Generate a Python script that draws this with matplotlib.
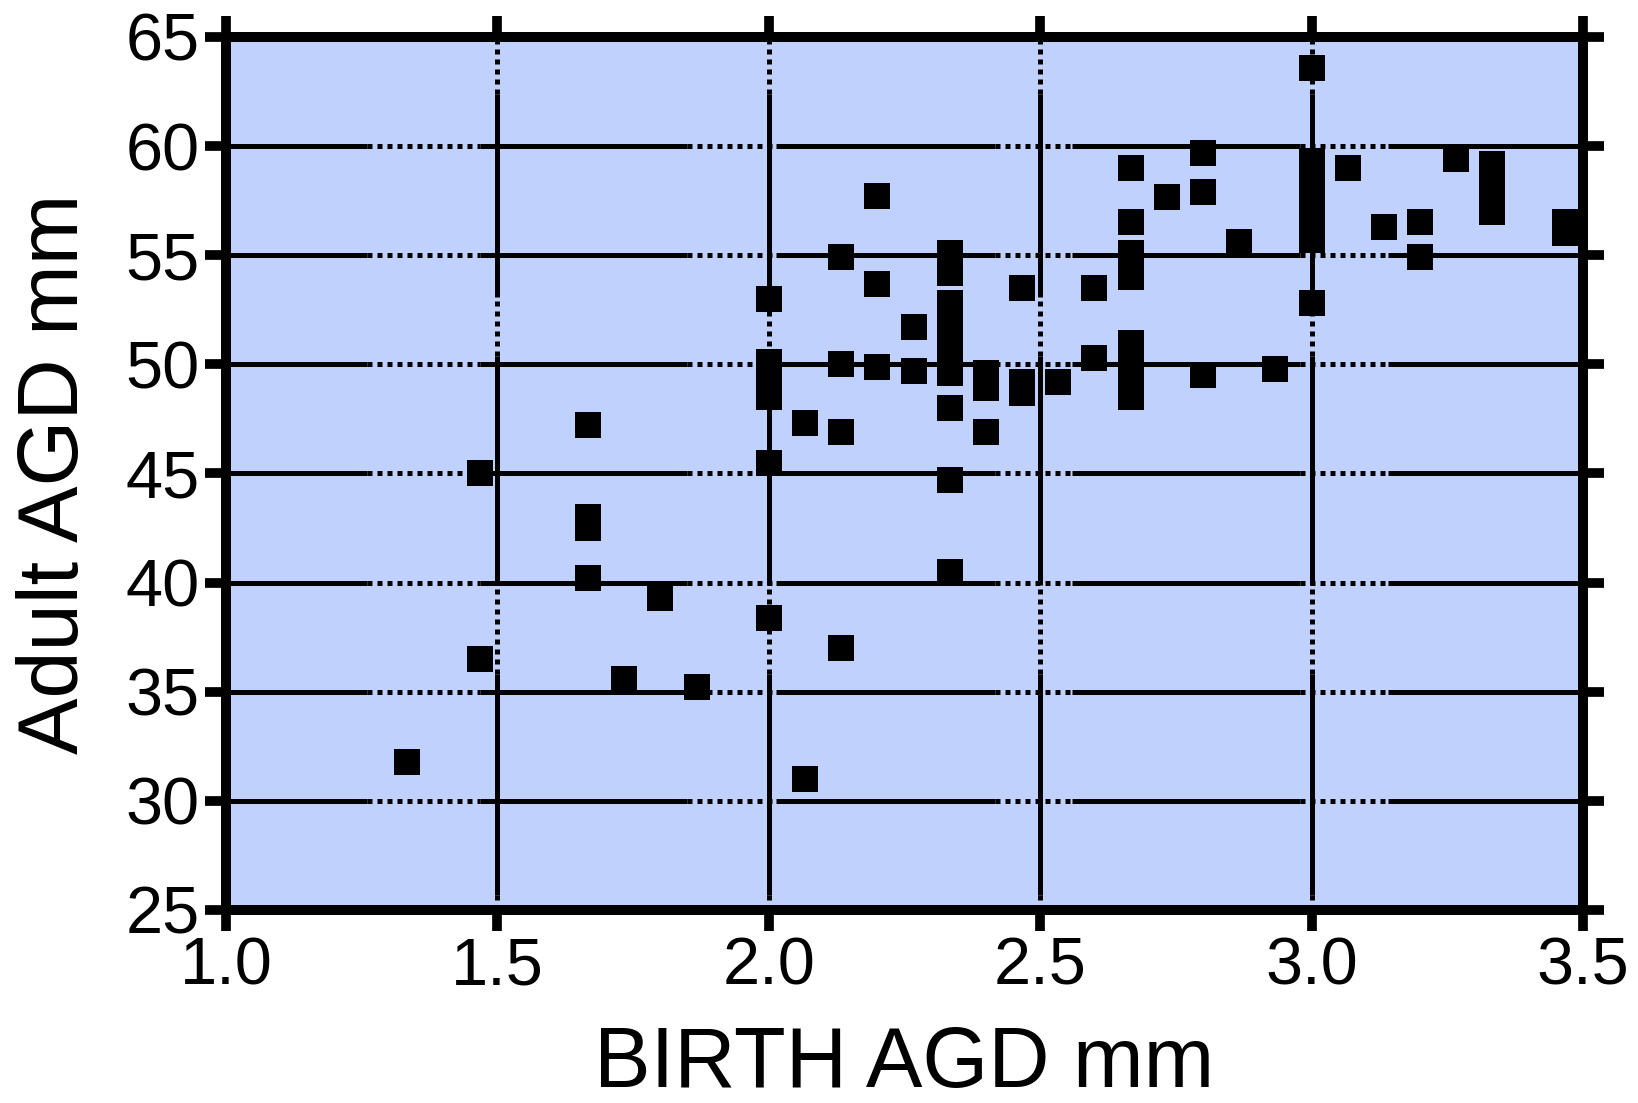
import matplotlib.pyplot as plt

plt.rcParams['font.family'] = ['Liberation Sans', 'DejaVu Sans']

# datos
birth_agd = [1.333,
             1.467, 1.467,
             1.667, 1.667, 1.667, 1.667,
             1.733, 1.8, 1.867,
             2.0, 2.0, 2.0, 2.0, 2.0, 2.0,
             2.067, 2.067,
             2.133, 2.133, 2.133, 2.133,
             2.2, 2.2, 2.2,
             2.267, 2.267,
             2.333, 2.333, 2.333, 2.333, 2.333, 2.333, 2.333, 2.333, 2.333,
             2.4, 2.4, 2.4,
             2.467, 2.467, 2.467,
             2.533,
             2.6, 2.6,
             2.667, 2.667, 2.667, 2.667, 2.667, 2.667, 2.667, 2.667,
             2.733,
             2.8, 2.8, 2.8,
             2.867, 2.933,
             3.0, 3.0, 3.0, 3.0, 3.0, 3.0, 3.0,
             3.067, 3.133,
             3.2, 3.2,
             3.267,
             3.333, 3.333, 3.333,
             3.467, 3.467]
adult_agd = [31.8,
             45.0, 36.5,
             47.2, 43.0, 42.5, 40.2,
             35.6, 39.3, 35.2,
             53.0, 50.1, 49.3, 48.5, 45.5, 38.4,
             47.3, 31.0,
             54.9, 50.0, 46.9, 37.0,
             57.7, 53.7, 49.9,
             51.7, 49.7,
             55.1, 54.2, 52.8, 51.7, 50.7, 49.6, 48.0, 44.7, 40.5,
             49.6, 48.9, 46.9,
             53.5, 49.2, 48.7,
             49.2,
             53.5, 50.3,
             59.0, 56.5, 55.1, 54.0, 51.0, 50.2, 49.3, 48.5,
             57.65,
             59.7, 57.9, 49.5,
             55.6, 49.8,
             63.6, 59.3, 58.4, 57.5, 56.6, 55.7, 52.8,
             59.0, 56.3,
             56.5, 54.9,
             59.4,
             59.2, 58.1, 57.0,
             56.5, 56.0]

x_ticks = [1.0, 1.5, 2.0, 2.5, 3.0, 3.5]
y_ticks = [25, 30, 35, 40, 45, 50, 55, 60, 65]

# tramos de la grilla (lineas continuas y punteadas como en la imagen)
h_solid = [(1.0, 1.26), (1.468, 1.85), (2.013, 2.416), (2.558, 2.979), (3.14, 3.5)]
h_dotted = [(1.26, 1.468), (1.85, 2.013), (2.416, 2.558), (2.979, 3.14)]
v_solid = [(53.1, 62.4), (39.9, 50.4), (25.7, 35.8)]
v_dotted = [(62.4, 65), (50.4, 53.1), (35.8, 39.9), (25, 25.7)]

fig = plt.figure(figsize=(16.38, 11.03), dpi=100)
ax = fig.add_axes([0.138, 0.175, 0.8284, 0.7915])
ax.set_facecolor('#BFD1FC')
ax.set_xlim(1.0, 3.5)
ax.set_ylim(25, 65)

grid_lw = 3.6
for yv in y_ticks[1:-1]:
    for a, b in h_solid:
        ax.plot([a, b], [yv, yv], color='black', lw=grid_lw, solid_capstyle='butt', zorder=1)
    for a, b in h_dotted:
        ax.plot([a, b], [yv, yv], color='black', lw=grid_lw, linestyle=(0, (1, 1)), zorder=1)
for xv in x_ticks[1:-1]:
    for a, b in v_solid:
        ax.plot([xv, xv], [a, b], color='black', lw=grid_lw, solid_capstyle='butt', zorder=1)
    for a, b in v_dotted:
        ax.plot([xv, xv], [a, b], color='black', lw=grid_lw, linestyle=(0, (1, 1)), zorder=1)

ax.plot(birth_agd, adult_agd, 's', color='black', ms=18.5, mew=0, zorder=3)

ax.set_xticks(x_ticks)
ax.set_xticklabels([f'{t:.1f}' for t in x_ticks])
ax.set_yticks(y_ticks)
ax.tick_params(direction='out', length=15, width=7, top=True, right=True,
               labeltop=False, labelright=False, labelsize=48, pad=4, colors='black')
for s in ax.spines.values():
    s.set_linewidth(7.2)
    s.set_zorder(5)

ax.set_xlabel('BIRTH AGD mm', fontsize=61, va='center')
ax.xaxis.set_label_coords(0.5, -0.178)
ax.set_ylabel('Adult AGD mm', fontsize=61, va='center')
ax.yaxis.set_label_coords(-0.125, 0.5)

fig.savefig('out.png', dpi=100)
